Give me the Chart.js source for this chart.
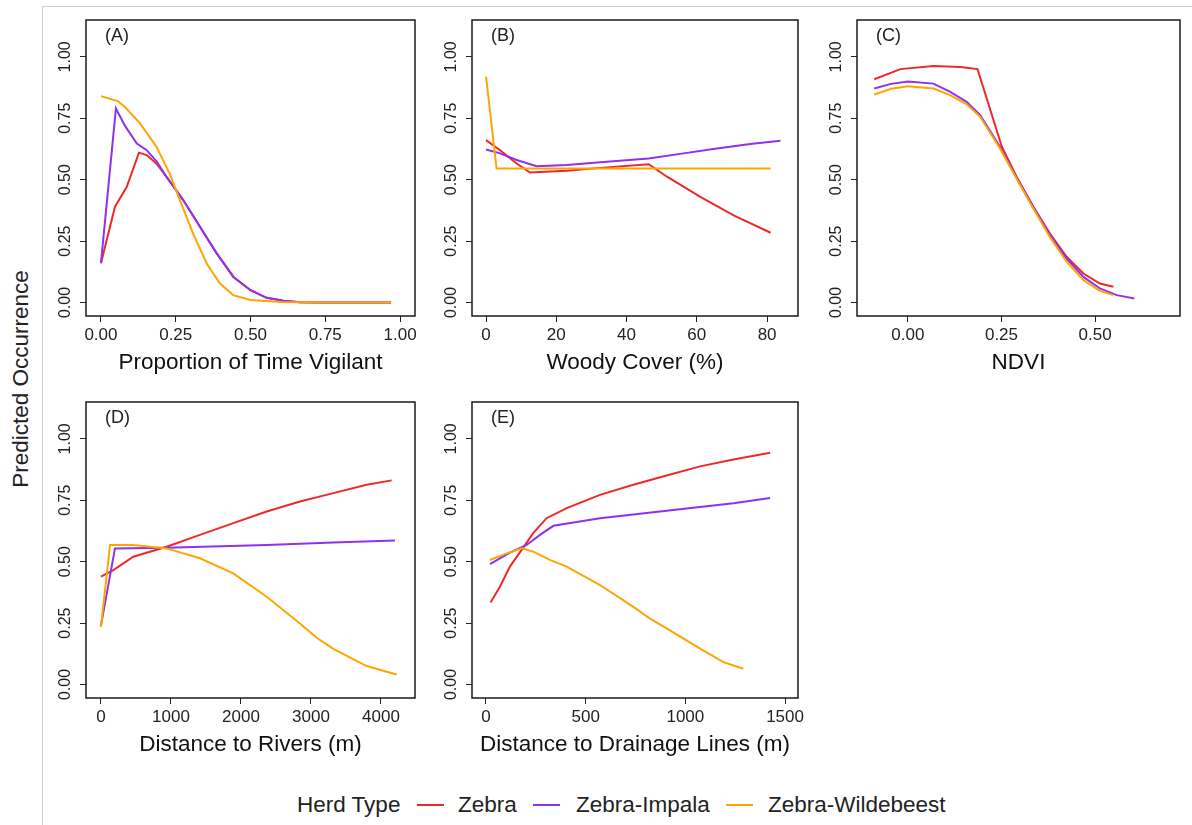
<!DOCTYPE html>
<html>
<head>
<meta charset="utf-8">
<script src="https://cdn.jsdelivr.net/npm/chart.js@4.4.1/dist/chart.umd.min.js"></script>
<style>
  html, body { margin:0; padding:0; background:#fff; width:1192px; height:825px; overflow:hidden; }
  body { position:relative; font-family:"Liberation Sans", Arial, sans-serif; color:#222; }
  canvas { position:absolute; }
  #frameTop { position:absolute; left:42px; top:6px; width:1150px; height:1px; background:#cfcfcf; }
  #frameLeft { position:absolute; left:42px; top:6px; width:1px; height:819px; background:#cfcfcf; }
  #ylab { position:absolute; left:21px; top:379px; transform:translate(-50%,-50%) rotate(-90deg);
          font-size:22.5px; white-space:nowrap; color:#222; }
  .leg { position:absolute; top:805px; transform:translateY(-50%); font-size:22.5px; white-space:nowrap; color:#222; }
  .legline { position:absolute; top:804px; width:27px; height:2px; }
</style>
</head>
<body>
<div id="frameTop"></div>
<div id="frameLeft"></div>
<div id="ylab">Predicted Occurrence</div>

<canvas id="cA"></canvas>
<canvas id="cB"></canvas>
<canvas id="cC"></canvas>
<canvas id="cD"></canvas>
<canvas id="cE"></canvas>

<div class="leg" style="left:297px">Herd Type</div>
<div class="legline" style="left:417px;background:#f02828"></div>
<div class="leg" style="left:458px">Zebra</div>
<div class="legline" style="left:533px;background:#9030f0"></div>
<div class="leg" style="left:576px">Zebra-Impala</div>
<div class="legline" style="left:726px;background:#ffa500"></div>
<div class="leg" style="left:768px">Zebra-Wildebeest</div>

<script>
// ---------- data ----------
const herdTypes = ["Zebra", "Zebra-Impala", "Zebra-Wildebeest"];
const herdColors = ["#f02828", "#9030f0", "#ffa500"];

const yTicks = [0, 0.25, 0.5, 0.75, 1];
const yTickLabels = ["0.00", "0.25", "0.50", "0.75", "1.00"];

// (A) proportion of time vigilant
const vigTicks = [0, 0.25, 0.5, 0.75, 1];
const vigTickLabels = ["0.00", "0.25", "0.50", "0.75", "1.00"];
const zebraA_x = [0, 0.047, 0.086, 0.127, 0.153, 0.186, 0.22, 0.275, 0.33, 0.387, 0.443, 0.5, 0.554, 0.61, 0.665, 0.75, 0.97];
const zebraA_y = [0.16, 0.39, 0.47, 0.61, 0.60, 0.565, 0.51, 0.417, 0.31, 0.2, 0.104, 0.05, 0.019, 0.007, 0.001, 0, 0];
const impalaA_x = [0, 0.05, 0.08, 0.12, 0.153, 0.186, 0.22, 0.275, 0.33, 0.387, 0.443, 0.5, 0.554, 0.61, 0.665, 0.75, 0.97];
const impalaA_y = [0.16, 0.79, 0.72, 0.647, 0.62, 0.575, 0.51, 0.417, 0.31, 0.2, 0.104, 0.05, 0.019, 0.007, 0.001, 0, 0];
const wildA_x = [0, 0.056, 0.08, 0.13, 0.186, 0.23, 0.264, 0.308, 0.354, 0.398, 0.442, 0.5, 0.6, 0.75, 0.97];
const wildA_y = [0.84, 0.82, 0.796, 0.73, 0.633, 0.525, 0.416, 0.28, 0.158, 0.077, 0.03, 0.01, 0.002, 0, 0];

// (B) woody cover
const woodyTicks = [0, 20, 40, 60, 80];
const woodyTickLabels = ["0", "20", "40", "60", "80"];
const zebraB_x = [0, 4, 8.7, 12.5, 23, 32.5, 46.3, 51.5, 61, 70.5, 81];
const zebraB_y = [0.661, 0.62, 0.566, 0.529, 0.536, 0.548, 0.563, 0.512, 0.43, 0.355, 0.284];
const impalaB_x = [0, 4, 8.7, 14.4, 23, 32.5, 46.3, 56.2, 65.7, 75.2, 83.8];
const impalaB_y = [0.623, 0.607, 0.58, 0.555, 0.56, 0.571, 0.586, 0.607, 0.627, 0.645, 0.658];
const wildB_x = [0, 3, 81];
const wildB_y = [0.919, 0.545, 0.545];

// (C) NDVI
const ndviTicks = [0, 0.25, 0.5];
const ndviTickLabels = ["0.00", "0.25", "0.50"];
const zebraC_x = [-0.09, -0.02, 0.068, 0.14, 0.186, 0.251, 0.291, 0.335, 0.38, 0.424, 0.469, 0.513, 0.549];
const zebraC_y = [0.909, 0.95, 0.963, 0.959, 0.95, 0.634, 0.51, 0.39, 0.28, 0.186, 0.118, 0.077, 0.064];
const impalaC_x = [-0.09, -0.045, 0, 0.068, 0.113, 0.157, 0.193, 0.246, 0.29, 0.335, 0.38, 0.424, 0.469, 0.513, 0.558, 0.605];
const impalaC_y = [0.871, 0.89, 0.9, 0.891, 0.857, 0.817, 0.763, 0.634, 0.51, 0.39, 0.274, 0.179, 0.104, 0.057, 0.03, 0.016];
const wildC_x = [-0.09, -0.045, 0, 0.068, 0.113, 0.157, 0.193, 0.246, 0.29, 0.335, 0.38, 0.424, 0.469, 0.513, 0.549];
const wildC_y = [0.847, 0.87, 0.88, 0.871, 0.844, 0.807, 0.756, 0.627, 0.505, 0.383, 0.265, 0.166, 0.091, 0.047, 0.03];

// (D) distance to rivers
const riverTicks = [0, 1000, 2000, 3000, 4000];
const riverTickLabels = ["0", "1000", "2000", "3000", "4000"];
const zebraD_x = [0, 176, 462, 938, 1414, 1890, 2367, 2843, 3319, 3795, 4152];
const zebraD_y = [0.439, 0.466, 0.52, 0.561, 0.609, 0.657, 0.704, 0.745, 0.779, 0.813, 0.831];
const impalaD_x = [0, 200, 938, 2367, 3319, 4200];
const impalaD_y = [0.241, 0.554, 0.557, 0.568, 0.578, 0.586];
const wildD_x = [0, 129, 462, 938, 1414, 1890, 2367, 2843, 3081, 3319, 3795, 4224];
const wildD_y = [0.234, 0.568, 0.568, 0.554, 0.514, 0.452, 0.357, 0.248, 0.19, 0.145, 0.075, 0.041];

// (E) distance to drainage lines
const drainTicks = [0, 500, 1000, 1500];
const drainTickLabels = ["0", "500", "1000", "1500"];
const zebraE_x = [23, 70, 120, 179, 237, 304, 405, 572, 739, 906, 1074, 1241, 1425];
const zebraE_y = [0.334, 0.398, 0.48, 0.548, 0.616, 0.677, 0.718, 0.772, 0.813, 0.851, 0.888, 0.916, 0.943];
const impalaE_x = [20, 120, 204, 271, 338, 572, 906, 1241, 1425];
const impalaE_y = [0.49, 0.537, 0.568, 0.609, 0.646, 0.677, 0.707, 0.738, 0.759];
const wildE_x = [20, 104, 179, 237, 321, 405, 572, 739, 823, 906, 1074, 1191, 1291];
const wildE_y = [0.507, 0.534, 0.554, 0.541, 0.507, 0.48, 0.405, 0.316, 0.268, 0.228, 0.146, 0.091, 0.064];

// ---------- layout ----------
const FONT = '"Liberation Sans", Arial, sans-serif';
const PAD_L = 52, PAD_T = 8, PAD_R = 14, PAD_B = 66;

function pts(xs, ys){
  return xs.map((x,i)=>({x:x, y:ys[i]}));
}

// box, tag and y labels drawn on top of the chart area
const framePlugin = {
  id: "frame",
  afterDraw(chart, args, opts){
    const ctx = chart.ctx, a = chart.chartArea, y = chart.scales.y;
    ctx.save();
    ctx.strokeStyle = "#1a1a1a";
    ctx.lineWidth = 1.5;
    ctx.strokeRect(a.left, a.top, a.right - a.left, a.bottom - a.top);

    ctx.fillStyle = "#222";
    ctx.font = "16px " + FONT;
    ctx.textAlign = "center";
    ctx.textBaseline = "middle";
    y.ticks.forEach((t,i)=>{
      ctx.save();
      ctx.translate(a.left - 20, y.getPixelForValue(t.value));
      ctx.rotate(-Math.PI/2);
      ctx.fillText(yTickLabels[i], 0, 0);
      ctx.restore();
    });

    ctx.font = "18px " + FONT;
    ctx.textAlign = "left";
    ctx.fillText(opts.tag, a.left + 19, a.top + 16);
    ctx.restore();
  }
};

function makePanel(id, box, tag, xTitle, xMin, xMax, xTicks, xLabels, series){
  const cv = document.getElementById(id);
  const w = box.r - box.l + PAD_L + PAD_R;
  const h = box.b - box.t + PAD_T + PAD_B;
  cv.width = w; cv.height = h;
  cv.style.left = (box.l - PAD_L) + "px";
  cv.style.top = (box.t - PAD_T) + "px";

  const datasets = series.map((s,i)=>({
    label: herdTypes[i],
    data: pts(s[0], s[1]),
    borderColor: herdColors[i],
    borderWidth: 2,
    pointRadius: 0,
    tension: 0,
    fill: false,
    order: 3 - i
  }));

  return new Chart(cv, {
    type: "line",
    data: { datasets },
    options: {
      responsive: false,
      animation: false,
      layout: { padding: { left: 0, top: PAD_T, right: PAD_R, bottom: 0 } },
      plugins: { legend: { display:false }, tooltip: { enabled:false }, frame: { tag } },
      scales: {
        x: {
          type: "linear", position: "bottom", min: xMin, max: xMax,
          afterBuildTicks: s => { s.ticks = xTicks.map(v=>({value:v})); },
          afterFit: s => { s.height = PAD_B; s.paddingLeft = 0; s.paddingRight = 0; },
          grid: { drawOnChartArea:false, drawTicks:true, tickLength:6, color:"#222", lineWidth:1 },
          border: { display:false },
          ticks: { autoSkip:false, maxRotation:0, padding:3, color:"#222",
                   font:{ size:17, family:FONT },
                   callback: (v,i)=>xLabels[i] },
          title: { display:true, text:xTitle, color:"#111",
                   font:{ size:22.5, family:FONT }, padding:{ top:0, bottom:6 } }
        },
        y: {
          type: "linear", position: "left", min: -0.055, max: 1.15,
          afterBuildTicks: s => { s.ticks = yTicks.map(v=>({value:v})); },
          afterFit: s => { s.width = PAD_L; },
          grid: { drawOnChartArea:false, drawTicks:true, tickLength:6, color:"#222", lineWidth:1 },
          border: { display:false },
          ticks: { display:false }
        }
      }
    },
    plugins: [framePlugin]
  });
}

makePanel("cA", {l:86, t:20, r:415, b:316}, "(A)", "Proportion of Time Vigilant", -0.05, 1.05,
  vigTicks, vigTickLabels,
  [[zebraA_x, zebraA_y], [impalaA_x, impalaA_y], [wildA_x, wildA_y]]);

makePanel("cB", {l:472, t:20, r:798, b:316}, "(B)", "Woody Cover (%)", -4, 88.8,
  woodyTicks, woodyTickLabels,
  [[zebraB_x, zebraB_y], [impalaB_x, impalaB_y], [wildB_x, wildB_y]]);

makePanel("cC", {l:857, t:20, r:1180, b:316}, "(C)", "NDVI", -0.136, 0.727,
  ndviTicks, ndviTickLabels,
  [[zebraC_x, zebraC_y], [impalaC_x, impalaC_y], [wildC_x, wildC_y]]);

makePanel("cD", {l:86, t:402, r:415, b:698}, "(D)", "Distance to Rivers (m)", -214, 4486,
  riverTicks, riverTickLabels,
  [[zebraD_x, zebraD_y], [impalaD_x, impalaD_y], [wildD_x, wildD_y]]);

makePanel("cE", {l:472, t:402, r:798, b:698}, "(E)", "Distance to Drainage Lines (m)", -70, 1565,
  drainTicks, drainTickLabels,
  [[zebraE_x, zebraE_y], [impalaE_x, impalaE_y], [wildE_x, wildE_y]]);
</script>
</body>
</html>
